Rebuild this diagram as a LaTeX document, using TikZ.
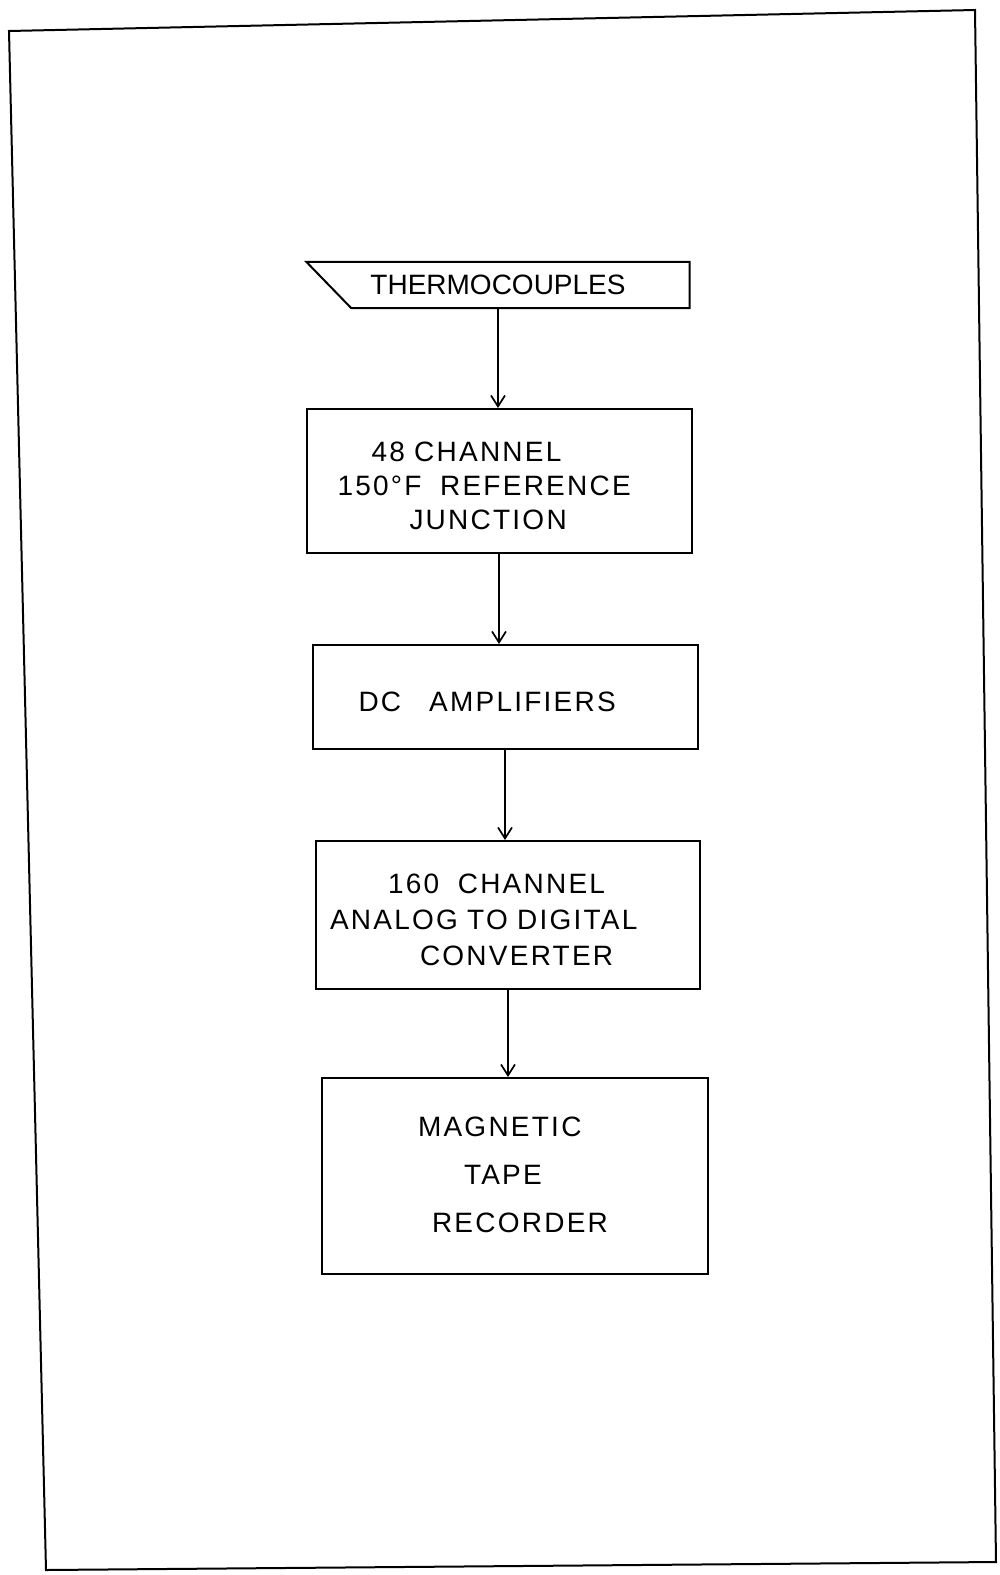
\documentclass[tikz,border=0pt]{standalone}
\usepackage{fontspec}
\setmainfont{Liberation Sans}
\newfontfamily\lettering[LetterSpace=8]{Liberation Sans}
\newcommand{\dropline}{\mbox{}\\[-4pt]}
\usetikzlibrary{arrows.meta}
\begin{document}
\begin{tikzpicture}[x=1pt,y=-1pt,
  blk/.style={draw=black,line width=2pt,inner sep=0pt,align=left,
    font=\fontsize{28}{34}\lettering},
  flow/.style={line width=1.7pt,-{Straight Barb[length=11pt,width=14pt,line width=1.7pt]}},
  frame/.style={line width=2pt,line join=miter}]
\useasboundingbox (0,0) rectangle (1000,1575);
\fill[white] (0,0) rectangle (1000,1575);
% outer frame
\coordinate (f1) at (9,31);
\coordinate (f2) at (975,10);
\coordinate (f3) at (996,1562);
\coordinate (f4) at (46,1570);
\draw[frame] (f1) -- (f2) -- (f3) -- (f4) -- cycle;
% thermocouples (input shape)
\node[draw=none,inner sep=0pt,font=\fontsize{28}{34}\selectfont,
  minimum width=383pt,minimum height=46pt] (tc) at (498,285) {THERMOCOUPLES};
\draw[line width=2pt] (tc.north west) -- (tc.north east) -- (tc.south east)
  -- ([xshift=45pt]tc.south west) -- cycle;
% blocks
\node[blk,text width=385pt,minimum height=144pt] (ref) at (499,481)
  {\dropline\hspace*{65pt}48 CHANNEL\\\hspace*{31pt}150°F\ \ REFERENCE\\\hspace*{103pt}JUNCTION};
\node[blk,text width=385pt,minimum height=104pt] (amp) at (505,697)
  {\dropline\hspace*{46pt}DC\ \ \ AMPLIFIERS};
\node[blk,text width=384pt,minimum height=148pt] (adc) at (508,915)
  {\dropline\hspace*{72pt}160\ \ CHANNEL\\[2pt]\hspace*{14pt}ANALOG TO DIGITAL\\[2pt]\hspace*{104pt}CONVERTER};
\node[blk,text width=386pt,minimum height=196pt] (mtr) at (515,1176)
  {\dropline\hspace*{96pt}MAGNETIC\\[14pt]\hspace*{142pt}TAPE\\[14pt]\hspace*{110pt}RECORDER\\[-20pt]\mbox{}};
% connectors
\draw[flow] (tc.south) -- (tc.south |- ref.north);
\draw[flow] (ref.south) -- (ref.south |- amp.north);
\draw[flow] (amp.south) -- (amp.south |- adc.north);
\draw[flow] (adc.south) -- (adc.south |- mtr.north);
\end{tikzpicture}
\end{document}
